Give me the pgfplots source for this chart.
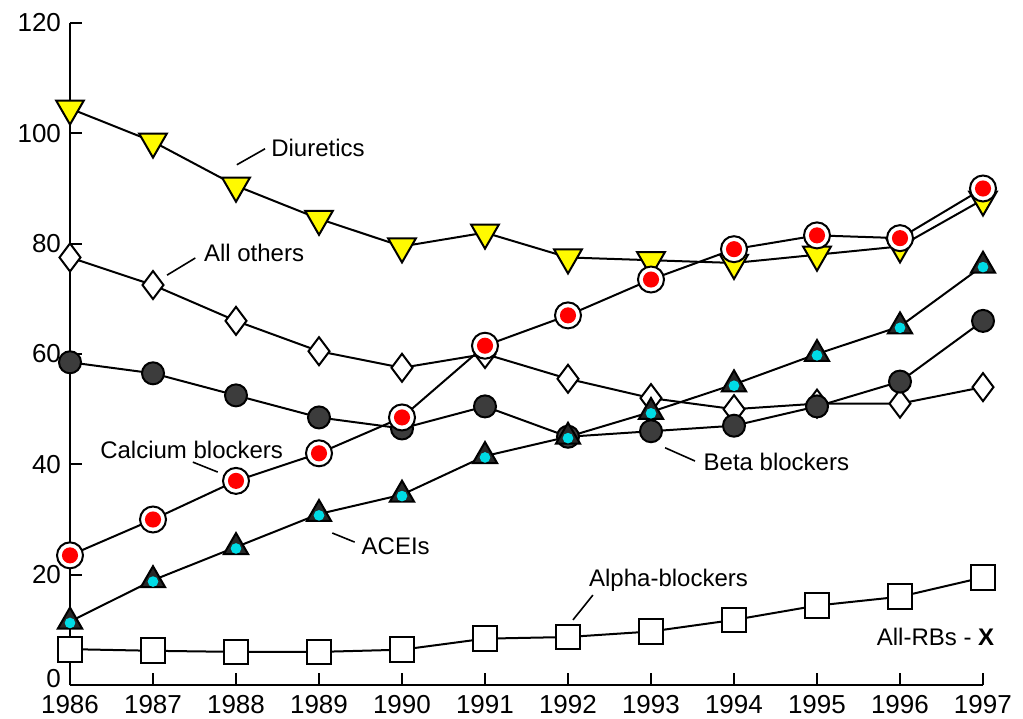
\documentclass[border=0pt]{standalone}
\usepackage{fontspec}
\setmainfont{Liberation Sans}
\usepackage{pgfplots}
\pgfplotsset{compat=1.18}
\usepackage{pgfplotstable}

\definecolor{ryel}{RGB}{255,250,0}
\definecolor{rcyan}{RGB}{0,220,230}
\definecolor{rgray}{RGB}{60,60,60}
\definecolor{rdark}{RGB}{40,40,40}

\tikzset{lbl/.style={font=\fontsize{12}{14}\selectfont, anchor=west, inner sep=0pt}}

\pgfdeclareplotmark{calc}{%
  \pgfpathcircle{\pgfpointorigin}{\pgfplotmarksize}%
  \pgfsetfillcolor{white}\pgfusepath{fill,stroke}%
  \pgfpathcircle{\pgfpointorigin}{0.62\pgfplotmarksize}%
  \pgfsetfillcolor{red}\pgfusepath{fill}}
\pgfdeclareplotmark{acei}{%
  \pgfpathmoveto{\pgfpointpolar{90}{\pgfplotmarksize}}%
  \pgfpathlineto{\pgfpointpolar{210}{\pgfplotmarksize}}%
  \pgfpathlineto{\pgfpointpolar{330}{\pgfplotmarksize}}%
  \pgfpathclose
  \pgfsetfillcolor{rdark}\pgfusepath{fill,stroke}%
  \pgfpathcircle{\pgfpoint{0pt}{-0.1\pgfplotmarksize}}{0.38\pgfplotmarksize}%
  \pgfsetfillcolor{rcyan}\pgfusepath{fill}}

\pgfplotstableread{
year val
1986 104.5
1987 98.5
1988 90.5
1989 84.5
1990 79.5
1991 82
1992 77.5
1993 77
1994 76.5
1995 78
1996 79.5
1997 88
}\tabdiuretics
\pgfplotstableread{
year val
1986 77.5
1987 72.5
1988 66
1989 60.5
1990 57.5
1991 60
1992 55.5
1993 52
1994 50
1995 51
1996 51
1997 54
}\tabothers
\pgfplotstableread{
year val
1986 58.5
1987 56.5
1988 52.5
1989 48.5
1990 46.5
1991 50.5
1992 45
1993 46
1994 47
1995 50.5
1996 55
1997 66
}\tabbeta
\pgfplotstableread{
year val
1986 23.5
1987 30
1988 37
1989 42
1990 48.5
1991 61.5
1992 67
1993 73.5
1994 79
1995 81.5
1996 81
1997 90
}\tabcalcium
\pgfplotstableread{
year val
1986 11.5
1987 19
1988 25
1989 31
1990 34.5
1991 41.5
1992 45
1993 49.5
1994 54.5
1995 60
1996 65
1997 76
}\tabacei
\pgfplotstableread{
year val
1986 6.5
1987 6.2
1988 6
1989 6
1990 6.4
1991 8.4
1992 8.7
1993 9.7
1994 11.8
1995 14.4
1996 16
1997 19.5
}\tabalpha

\begin{document}
\begin{tikzpicture}
\path[use as bounding box] (-35pt,-16.5pt) rectangle (476.5pt,342.5pt);
\begin{axis}[
  at={(0,0)}, anchor=south west,
  scale only axis, width=456.5pt, height=331pt,
  xmin=1986, xmax=1997, ymin=0, ymax=120,
  axis x line=bottom, axis y line=left,
  axis line style={-, line width=1pt},
  xtick={1986,...,1997}, ytick={20,40,...,120},
  extra y ticks={0},
  extra y tick style={yticklabel style={yshift=3pt}},
  tick align=inside, major tick length=6pt,
  tick style={line width=0.9pt, black},
  /pgf/number format/1000 sep={},
  /pgf/number format/assume math mode=true,
  tick label style={font=\fontsize{13}{15}\selectfont},
  yticklabel style={xshift=-1pt},
  xticklabel style={yshift=-1.5pt},
  clip=false,
  every axis plot/.append style={black, line width=1pt, mark options={solid, line width=0.9pt}},
]
\addplot[mark=square*, mark size=6.2pt, mark options={fill=white, draw=black}] table[x=year,y=val]{\tabalpha};
\addplot[mark=diamond*, mark size=7pt, mark options={fill=white, draw=black}] table[x=year,y=val]{\tabothers};
\addplot[mark=*, mark size=5.5pt, mark options={fill=rgray, draw=black}] table[x=year,y=val]{\tabbeta};
\addplot[mark=triangle*, mark size=8pt, mark options={rotate=180, fill=ryel, draw=black}] table[x=year,y=val]{\tabdiuretics};
\addplot[mark=acei, mark size=7pt, mark options={draw=black}] table[x=year,y=val]{\tabacei};
\addplot[mark=calc, mark size=6.5pt, mark options={draw=black}] table[x=year,y=val]{\tabcalcium};

\node[lbl] at (axis cs:1988.42,97.3) {Diuretics};
\draw[line width=0.8pt] (axis cs:1988.01,94.3) -- (axis cs:1988.35,97.2);
\node[lbl] at (axis cs:1987.61,78.3) {All others};
\draw[line width=0.8pt] (axis cs:1987.17,74.3) -- (axis cs:1987.51,77.4);
\node[lbl] at (axis cs:1986.36,42.6) {Calcium blockers};
\draw[line width=0.8pt] (axis cs:1987.48,40.4) -- (axis cs:1987.78,38.6);
\node[lbl] at (axis cs:1993.63,40.4) {Beta blockers};
\draw[line width=0.8pt] (axis cs:1993.17,43.0) -- (axis cs:1993.53,40.6);
\node[lbl] at (axis cs:1989.51,25.2) {ACEIs};
\draw[line width=0.8pt] (axis cs:1989.16,27.55) -- (axis cs:1989.43,25.9);
\node[lbl] at (axis cs:1992.25,19.0) {Alpha-blockers};
\draw[line width=0.8pt] (axis cs:1992.30,16.3) -- (axis cs:1992.06,11.8);
\node[lbl, anchor=east] at (axis cs:1997.14,8.7) {All-RBs - \textbf{X}};
\end{axis}
\end{tikzpicture}
\end{document}
